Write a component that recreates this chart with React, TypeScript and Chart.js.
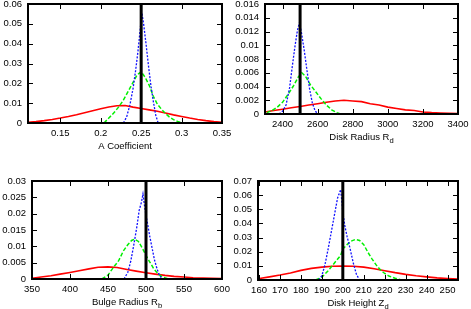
import React, { useEffect, useRef } from "react";
import { Chart, registerables } from "chart.js";
Chart.register(...registerables);

// ---------- Panel 1: A Coefficient ----------
const aRedX = [0.11, 0.12, 0.13, 0.14, 0.15, 0.16, 0.17, 0.18, 0.19, 0.2, 0.21, 0.22, 0.23, 0.24, 0.25, 0.26, 0.27, 0.28, 0.29, 0.3, 0.31, 0.32, 0.33, 0.34, 0.35];
const aRedY = [0.0003, 0.0007, 0.0012, 0.0018, 0.0025, 0.0033, 0.0042, 0.0052, 0.0062, 0.0072, 0.0081, 0.0087, 0.0088, 0.0080, 0.0073, 0.0066, 0.0059, 0.0050, 0.0041, 0.0033, 0.0025, 0.0018, 0.0012, 0.0007, 0.0004];
const aGreenX = [0.204, 0.21, 0.216, 0.222, 0.228, 0.234, 0.24, 0.245, 0.25, 0.255, 0.26, 0.265, 0.27, 0.275, 0.28, 0.285, 0.29, 0.295, 0.3];
const aGreenY = [0, 0.0025, 0.005, 0.008, 0.0115, 0.016, 0.0205, 0.0243, 0.0258, 0.023, 0.019, 0.0135, 0.0095, 0.007, 0.0048, 0.003, 0.0017, 0.0008, 0.0002];
const aBlueX = [0.228, 0.232, 0.236, 0.24, 0.243, 0.246, 0.249, 0.251, 0.253, 0.256, 0.259, 0.262, 0.265, 0.268, 0.271];
const aBlueY = [0, 0.003, 0.009, 0.0175, 0.026, 0.036, 0.048, 0.0553, 0.05, 0.04, 0.029, 0.019, 0.011, 0.004, 0];
const aXTicks = [0.15, 0.2, 0.25, 0.3, 0.35];
const aYTicks = [0, 0.01, 0.02, 0.03, 0.04, 0.05, 0.06];
const aTrue = 0.25;

// ---------- Panel 2: Disk Radius R_d ----------
const rdRedX = [2300, 2350, 2400, 2450, 2500, 2550, 2600, 2650, 2700, 2750, 2800, 2850, 2900, 2950, 3000, 3050, 3100, 3150, 3200, 3250, 3300, 3350, 3400];
const rdRedY = [0.0003, 0.0005, 0.0007, 0.0009, 0.0011, 0.0013, 0.0015, 0.0017, 0.0019, 0.0020, 0.0019, 0.0018, 0.0015, 0.0013, 0.0010, 0.0008, 0.0006, 0.0005, 0.0003, 0.0002, 0.00015, 0.0001, 0.00005];
const rdGreenX = [2310, 2340, 2370, 2400, 2430, 2460, 2490, 2510, 2530, 2560, 2590, 2620, 2650, 2680, 2710, 2730];
const rdGreenY = [0.0002, 0.0005, 0.001, 0.0017, 0.0028, 0.004, 0.0054, 0.006, 0.0055, 0.0042, 0.0032, 0.0022, 0.0013, 0.0006, 0.0002, 0];
const rdBlueX = [2380, 2400, 2420, 2440, 2455, 2470, 2485, 2497, 2510, 2525, 2540, 2555, 2570, 2585, 2600];
const rdBlueY = [0, 0.0004, 0.0013, 0.0038, 0.0068, 0.0097, 0.0122, 0.0133, 0.0115, 0.009, 0.0062, 0.0035, 0.0016, 0.0005, 0];
const rdXTicks = [2400, 2600, 2800, 3000, 3200, 3400];
const rdYTicks = [0, 0.002, 0.004, 0.006, 0.008, 0.01, 0.012, 0.014, 0.016];
const rdTrue = 2500;

// ---------- Panel 3: Bulge Radius R_b ----------
const rbRedX = [350, 362, 375, 387, 400, 412, 425, 437, 450, 462, 475, 487, 500, 512, 525, 537, 550, 562, 575, 587, 600];
const rbRedY = [0.0002, 0.0006, 0.0010, 0.0015, 0.0020, 0.0025, 0.0031, 0.0036, 0.0037, 0.0035, 0.0029, 0.0024, 0.0019, 0.0015, 0.0011, 0.0008, 0.0006, 0.0004, 0.0003, 0.0002, 0.0001];
const rbGreenX = [442, 450, 457, 464, 470, 476, 481, 485, 490, 495, 500, 505, 510, 516, 522, 530];
const rbGreenY = [0, 0.0012, 0.0035, 0.0056, 0.0085, 0.0105, 0.0118, 0.0122, 0.0115, 0.0095, 0.0072, 0.0052, 0.0032, 0.0015, 0.0006, 0];
const rbBlueX = [471, 476, 480, 484, 488, 491, 494, 496, 498, 500, 502, 505, 508, 511, 514, 517, 521];
const rbBlueY = [0, 0.002, 0.0055, 0.0105, 0.016, 0.021, 0.0235, 0.026, 0.0225, 0.0195, 0.017, 0.013, 0.0095, 0.006, 0.0035, 0.0015, 0];
const rbXTicks = [350, 400, 450, 500, 550, 600];
const rbYTicks = [0, 0.005, 0.01, 0.015, 0.02, 0.025, 0.03];
const rbTrue = 500;

// ---------- Panel 4: Disk Height Z_d ----------
const zdRedX = [159, 165, 170, 175, 180, 185, 190, 195, 200, 205, 210, 215, 220, 225, 230, 235, 240, 245, 250, 255];
const zdRedY = [0.0008, 0.0022, 0.0035, 0.005, 0.0068, 0.0082, 0.0091, 0.0097, 0.0099, 0.0097, 0.0091, 0.0079, 0.0066, 0.0052, 0.004, 0.003, 0.0022, 0.0015, 0.001, 0.0006];
const zdGreenX = [187, 190, 193, 196, 199, 200, 202, 204, 206, 208, 210, 212, 214, 216, 218, 220, 222, 225, 228];
const zdGreenY = [0, 0.002, 0.0065, 0.012, 0.0175, 0.022, 0.025, 0.0275, 0.0287, 0.028, 0.025, 0.0195, 0.0148, 0.0105, 0.007, 0.0046, 0.0028, 0.0012, 0];
const zdBlueX = [188.5, 190, 191.5, 193, 194.5, 196, 197.5, 199, 200, 201, 202, 203.5, 205, 206.5, 208];
const zdBlueY = [0, 0.003, 0.011, 0.022, 0.034, 0.046, 0.058, 0.064, 0.048, 0.038, 0.031, 0.022, 0.012, 0.004, 0];
const zdXTicks = [160, 170, 180, 190, 200, 210, 220, 230, 240, 250];
const zdYTicks = [0, 0.01, 0.02, 0.03, 0.04, 0.05, 0.06, 0.07];
const zdTrue = 200;

const W = 471;
const H = 309;
const FONT = '"Liberation Sans", Arial, sans-serif';
const FS = 9.5;

const panels = [
  { red: [aRedX, aRedY], green: [aGreenX, aGreenY], blue: [aBlueX, aBlueY], xMin: 0.11, xMax: 0.35, yMax: 0.06, xTicks: aXTicks, yTicks: aYTicks, truth: aTrue, label: "A Coefficient", sub: "", area: { l: 28, t: 4, r: 222, b: 123 } },
  { red: [rdRedX, rdRedY], green: [rdGreenX, rdGreenY], blue: [rdBlueX, rdBlueY], xMin: 2300, xMax: 3400, yMax: 0.016, xTicks: rdXTicks, yTicks: rdYTicks, truth: rdTrue, label: "Disk Radius R", sub: "d", area: { l: 265, t: 4, r: 458, b: 114 } },
  { red: [rbRedX, rbRedY], green: [rbGreenX, rbGreenY], blue: [rbBlueX, rbBlueY], xMin: 350, xMax: 600, yMax: 0.03, xTicks: rbXTicks, yTicks: rbYTicks, truth: rbTrue, label: "Bulge Radius R", sub: "b", area: { l: 32, t: 181, r: 222, b: 279 } },
  { red: [zdRedX, zdRedY], green: [zdGreenX, zdGreenY], blue: [zdBlueX, zdBlueY], xMin: 159.5, xMax: 255, yMax: 0.07, xTicks: zdXTicks, yTicks: zdYTicks, truth: zdTrue, label: "Disk Height Z", sub: "d", area: { l: 258, t: 181, r: 458, b: 280 } },
];

const fmt = (v: number) => String(Number(Number(v).toPrecision(6)));
const pts = (xs: number[], ys: number[]) => xs.map((x, i) => ({ x, y: ys[i] }));

const YW = 40;
const XH = 30;

function makeFramePlugin(p: any) {
  return {
    id: "frame" + p.label,
    afterDatasetsDraw(chart: any) {
      const ctx = chart.ctx;
      const { left, right, top, bottom } = chart.chartArea;
      const xs = chart.scales.x;
      const ys = chart.scales.y;
      ctx.save();
      ctx.strokeStyle = "#000";
      ctx.lineWidth = 1;
      ctx.beginPath();
      const TL = 5;
      p.xTicks.forEach((v: number) => {
        const px = Math.round(xs.getPixelForValue(v)) + 0.5;
        ctx.moveTo(px, bottom);
        ctx.lineTo(px, bottom - TL);
        ctx.moveTo(px, top);
        ctx.lineTo(px, top + TL);
      });
      p.yTicks.forEach((v: number) => {
        const py = Math.round(ys.getPixelForValue(v)) + 0.5;
        ctx.moveTo(left, py);
        ctx.lineTo(left + TL, py);
        ctx.moveTo(right, py);
        ctx.lineTo(right - TL, py);
      });
      ctx.stroke();
      ctx.lineWidth = 2;
      ctx.strokeRect(left, top, right - left, bottom - top);
      // x-axis title with optional subscript
      const main = p.label;
      const sub = p.sub;
      ctx.fillStyle = "#000";
      ctx.textBaseline = "alphabetic";
      ctx.textAlign = "left";
      const mainFont = `${FS}px ${FONT}`;
      const subFont = `${FS * 0.8}px ${FONT}`;
      ctx.font = mainFont;
      const w1 = ctx.measureText(main).width;
      ctx.font = subFont;
      const w2 = sub ? ctx.measureText(sub).width : 0;
      const cx = (left + right) / 2;
      const by = bottom + 25.5;
      const sx = cx - (w1 + w2) / 2;
      ctx.font = mainFont;
      ctx.fillText(main, sx, by);
      if (sub) {
        ctx.font = subFont;
        ctx.fillText(sub, sx + w1, by + 3);
      }
      ctx.restore();
    },
  };
}

function Panel({ p }: { p: any }) {
  const ref = useRef<HTMLCanvasElement | null>(null);
  useEffect(() => {
    if (!ref.current) return;
    const a = p.area;
    const chart = new Chart(ref.current, {
      type: "line",
      data: {
        datasets: [
          { data: pts(p.red[0], p.red[1]), borderColor: "#ff0000", borderWidth: 1.6, order: 4 },
          { data: pts(p.green[0], p.green[1]), borderColor: "#00f000", borderWidth: 1.5, borderDash: [4, 2], order: 3 },
          { data: pts(p.blue[0], p.blue[1]), borderColor: "#1010ff", borderWidth: 1.3, borderDash: [2, 1.5], order: 2 },
          { data: [{ x: p.truth, y: 0 }, { x: p.truth, y: p.yMax }], borderColor: "#000000", borderWidth: 3, order: 1 },
        ],
      },
      options: {
        responsive: false,
        animation: false,
        devicePixelRatio: 1,
        layout: { padding: { left: a.l - YW, top: a.t, right: W - a.r, bottom: H - a.b - XH } },
        plugins: { legend: { display: false }, tooltip: { enabled: false }, title: { display: false } },
        elements: { point: { radius: 0 }, line: { tension: 0, fill: false } },
        scales: {
          x: {
            type: "linear",
            min: p.xMin,
            max: p.xMax,
            grid: { display: false, drawTicks: false },
            border: { display: false },
            ticks: { autoSkip: false, maxRotation: 0, minRotation: 0, padding: 5, color: "#000", font: { family: FONT, size: FS }, callback: (v: any) => fmt(v) },
            afterBuildTicks: (s: any) => { s.ticks = p.xTicks.map((v: number) => ({ value: v })); },
            afterFit: (s: any) => { s.height = XH; s.paddingLeft = 0; s.paddingRight = 0; },
          },
          y: {
            type: "linear",
            min: 0,
            max: p.yMax,
            grid: { display: false, drawTicks: false },
            border: { display: false },
            ticks: { autoSkip: false, padding: 6, color: "#000", font: { family: FONT, size: FS }, callback: (v: any) => fmt(v) },
            afterBuildTicks: (s: any) => { s.ticks = p.yTicks.map((v: number) => ({ value: v })); },
            afterFit: (s: any) => { s.width = YW; s.paddingTop = 0; s.paddingBottom = 0; },
          },
        },
      } as any,
      plugins: [makeFramePlugin(p)],
    });
    return () => chart.destroy();
  }, [p]);
  return (
    <canvas
      ref={ref}
      width={W}
      height={H}
      style={{ position: "absolute", left: 0, top: 0, width: W, height: H }}
    />
  );
}

export default function App() {
  return (
    <div style={{ position: "absolute", left: 0, top: 0, width: W, height: H, background: "#fff" }}>
      {panels.map((p, i) => (
        <Panel key={i} p={p} />
      ))}
    </div>
  );
}
